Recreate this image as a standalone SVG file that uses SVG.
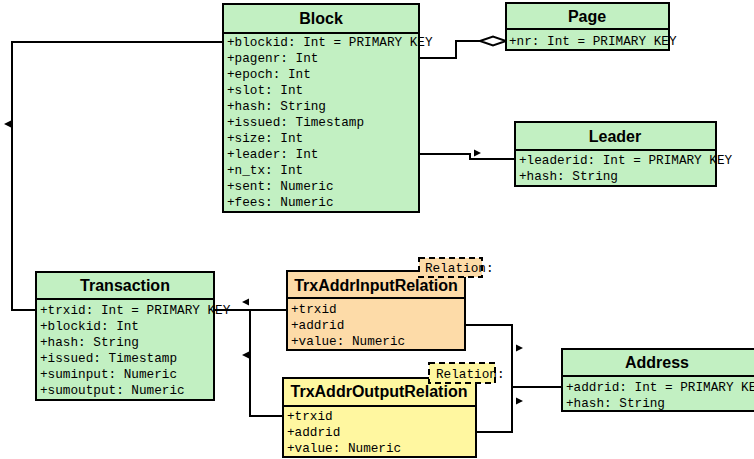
<svg xmlns="http://www.w3.org/2000/svg" xmlns:xlink="http://www.w3.org/1999/xlink" width="754" height="459" viewBox="0 0 754 459">
<style>
.box{stroke:#000;stroke-width:2}
.green{fill:#C2F0C2}
.orange{fill:#FDDBA8}
.yellow{fill:#FFF7A0}
.sep{stroke:#000;stroke-width:2}
.tab{stroke:#000;stroke-width:2;stroke-dasharray:6,4}
.title{font-family:"Liberation Sans",Arial,sans-serif;font-weight:bold;font-size:16px;text-anchor:middle;fill:#000}
.attr{font-family:"Liberation Mono","Courier New",monospace;font-size:12.7px;fill:#000}
.conn{fill:none;stroke:#000;stroke-width:2}
</style>
<defs>
<path id="arrR" d="M0,-3.5 L7,0 L0,3.5 Z" fill="#000"/>
<path id="arrL" d="M7,-3.5 L0,0 L7,3.5 Z" fill="#000"/>
</defs>
<g id="connectors">
<polyline class="conn" points="419,58 456,58 456,41 480,41"/>
<path d="M480,41 L493,36.5 L506,41 L493,45.5 Z" fill="#fff" stroke="#000" stroke-width="2"/>
<polyline class="conn" points="419,154 470,154 470,159 515,159"/>
<use xlink:href="#arrR" x="474" y="153"/>
<polyline class="conn" points="36,310 12,310 12,42 223,42"/>
<use xlink:href="#arrL" x="4" y="124"/>
<polyline class="conn" points="214,310 287,310"/>
<polyline class="conn" points="250,310 250,416 283,416"/>
<use xlink:href="#arrL" x="242" y="302"/>
<use xlink:href="#arrL" x="242" y="355"/>
<polyline class="conn" points="465,325 512,325 512,432 476,432"/>
<polyline class="conn" points="512,387 562,387"/>
<use xlink:href="#arrR" x="516" y="348"/>
<use xlink:href="#arrR" x="516" y="401"/>
</g>
<g id="block">
<rect class="box green" x="223" y="4" width="196" height="208"/>
<line class="sep" x1="223" y1="33" x2="419" y2="33"/>
<text class="title" x="321" y="24">Block</text>
<text class="attr" x="227" y="46">+blockid: Int = PRIMARY KEY</text>
<text class="attr" x="227" y="62">+pagenr: Int</text>
<text class="attr" x="227" y="78">+epoch: Int</text>
<text class="attr" x="227" y="94">+slot: Int</text>
<text class="attr" x="227" y="110">+hash: String</text>
<text class="attr" x="227" y="126">+issued: Timestamp</text>
<text class="attr" x="227" y="142">+size: Int</text>
<text class="attr" x="227" y="158">+leader: Int</text>
<text class="attr" x="227" y="174">+n_tx: Int</text>
<text class="attr" x="227" y="190">+sent: Numeric</text>
<text class="attr" x="227" y="206">+fees: Numeric</text>
</g>
<g id="page">
<rect class="box green" x="506" y="3" width="163" height="47"/>
<line class="sep" x1="506" y1="29" x2="669" y2="29"/>
<text class="title" x="587" y="22">Page</text>
<text class="attr" x="509" y="45">+nr: Int = PRIMARY KEY</text>
</g>
<g id="leader">
<rect class="box green" x="515" y="122" width="201" height="64"/>
<line class="sep" x1="515" y1="150" x2="716" y2="150"/>
<text class="title" x="615" y="142">Leader</text>
<text class="attr" x="519" y="164">+leaderid: Int = PRIMARY KEY</text>
<text class="attr" x="519" y="180">+hash: String</text>
</g>
<g id="transaction">
<rect class="box green" x="36" y="272" width="178" height="128"/>
<line class="sep" x1="36" y1="299" x2="214" y2="299"/>
<text class="title" x="125" y="291">Transaction</text>
<text class="attr" x="40" y="314">+trxid: Int = PRIMARY KEY</text>
<text class="attr" x="40" y="330">+blockid: Int</text>
<text class="attr" x="40" y="346">+hash: String</text>
<text class="attr" x="40" y="362">+issued: Timestamp</text>
<text class="attr" x="40" y="378">+suminput: Numeric</text>
<text class="attr" x="40" y="394">+sumoutput: Numeric</text>
</g>
<g id="trxaddrinputrelation">
<rect class="box orange" x="287" y="271" width="178" height="79"/>
<line class="sep" x1="287" y1="298" x2="465" y2="298"/>
<text class="title" x="376" y="291">TrxAddrInputRelation</text>
<text class="attr" x="291" y="313">+trxid</text>
<text class="attr" x="291" y="329">+addrid</text>
<text class="attr" x="291" y="345">+value: Numeric</text>
<rect class="tab orange" x="419" y="258" width="63" height="19"/>
<text class="attr" x="425" y="272">Relation:</text>
</g>
<g id="trxaddroutputrelation">
<rect class="box yellow" x="283" y="378" width="193" height="79"/>
<line class="sep" x1="283" y1="406" x2="476" y2="406"/>
<text class="title" x="379" y="397">TrxAddrOutputRelation</text>
<text class="attr" x="287" y="420">+trxid</text>
<text class="attr" x="287" y="436">+addrid</text>
<text class="attr" x="287" y="452">+value: Numeric</text>
<rect class="tab yellow" x="429" y="363" width="66" height="20"/>
<text class="attr" x="436" y="378">Relation:</text>
</g>
<g id="address">
<rect class="box green" x="562" y="349" width="196" height="62"/>
<line class="sep" x1="562" y1="376" x2="758" y2="376"/>
<text class="title" x="657" y="368">Address</text>
<text class="attr" x="566" y="391">+addrid: Int = PRIMARY KEY</text>
<text class="attr" x="566" y="407">+hash: String</text>
</g>
</svg>
